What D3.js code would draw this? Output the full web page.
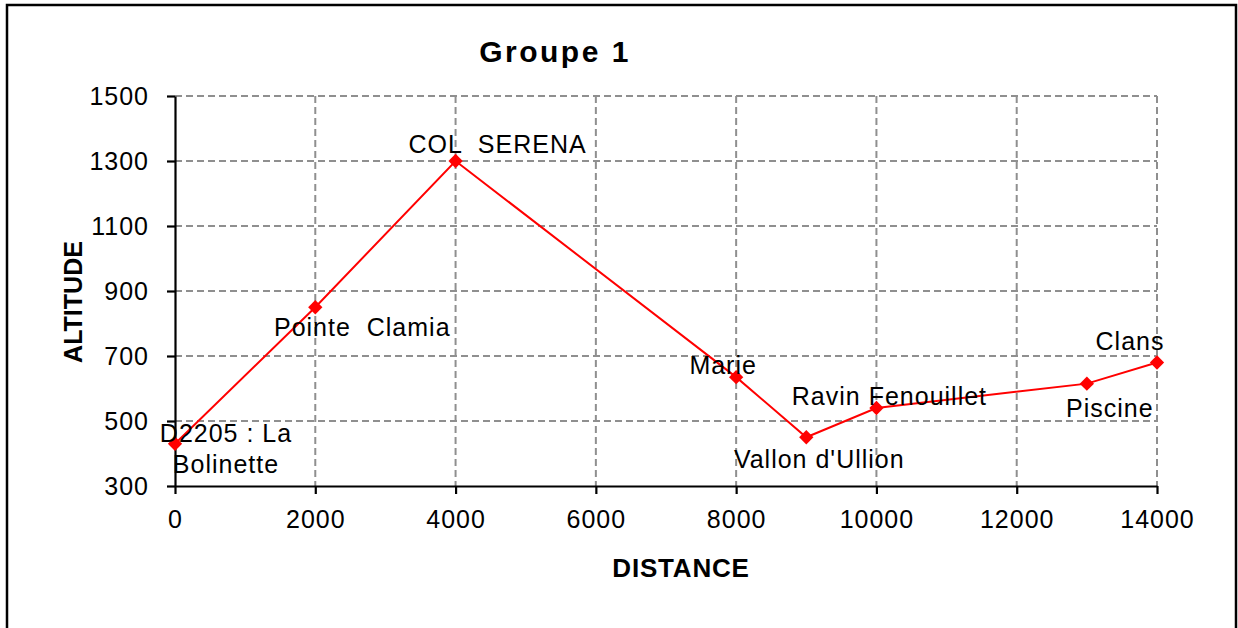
<!DOCTYPE html>
<html>
<head>
<meta charset="utf-8">
<script src="https://cdn.jsdelivr.net/npm/d3@7"></script>
<style>
  body { margin: 0; background: #fff; }
  svg { font-family: "Liberation Sans", Arial, sans-serif; }
  .grid line { stroke: #8f8f8f; stroke-width: 2; stroke-dasharray: 7,4; }
  .axis path, .axis line { stroke: #000; stroke-width: 2.2; }
  .axis text { font-size: 25px; fill: #000; letter-spacing: 1px; }
  .ptlabel { font-size: 25px; fill: #000; letter-spacing: 1px; }
</style>
</head>
<body>
<div id="chart"></div>
<script>
var distance = [0, 2000, 4000, 8000, 9000, 10000, 13000, 14000];
var altitude = [430, 850, 1300, 635, 450, 540, 615, 680];
var names = [["D2205 : La", "Bolinette"], ["Pointe  Clamia"], ["COL  SERENA"], ["Marie"],
             ["Vallon d'Ullion"], ["Ravin Fenouillet"], ["Piscine"], ["Clans"]];
/* label offset from its point, in pixels */
var labelOffsets = [[51, -11], [47, 20], [42, -17], [-13, -12], [13, 22], [13, -12], [23, 24], [-27, -22]];
var xTicks = [0, 2000, 4000, 6000, 8000, 10000, 12000, 14000];
var yTicks = [300, 500, 700, 900, 1100, 1300, 1500];

var W = 1238, H = 628;
var margin = {left: 175, top: 96, right: W - 1157, bottom: H - 486};
var width = W - margin.left - margin.right,
    height = H - margin.top - margin.bottom;

var svg = d3.select("#chart").append("svg")
    .attr("width", W)
    .attr("height", H);

/* outer frame */
svg.append("rect")
    .attr("x", 7).attr("y", 5)
    .attr("width", 1229).attr("height", 640)
    .attr("fill", "none").attr("stroke", "#000").attr("stroke-width", 2.5);

var g = svg.append("g")
    .attr("transform", "translate(" + margin.left + "," + margin.top + ")");

var x = d3.scaleLinear().domain([0, 14000]).range([0, width]),
    y = d3.scaleLinear().domain([300, 1500]).range([height, 0]);

var grid = g.append("g").attr("class", "grid");
grid.selectAll("line.v").data(xTicks.slice(1)).enter().append("line")
    .attr("x1", function(d) { return x(d); }).attr("x2", function(d) { return x(d); })
    .attr("y1", 0).attr("y2", height);
grid.selectAll("line.h").data(yTicks.slice(1)).enter().append("line")
    .attr("y1", function(d) { return y(d); }).attr("y2", function(d) { return y(d); })
    .attr("x1", 0).attr("x2", width);

var xAxis = d3.axisBottom(x).tickValues(xTicks).tickSize(8).tickSizeOuter(0).tickPadding(16).tickFormat(d3.format("d")),
    yAxis = d3.axisLeft(y).tickValues(yTicks).tickSize(8).tickSizeOuter(0).tickPadding(18).tickFormat(d3.format("d"));

g.append("g")
    .attr("class", "axis axis--x")
    .attr("transform", "translate(0," + height + ")")
    .call(xAxis);

g.append("g")
    .attr("class", "axis axis--y")
    .call(yAxis);

var pts = distance.map(function(d, i) { return {t: d, y: altitude[i], name: names[i], off: labelOffsets[i]}; });

var line = d3.line()
    .x(function(d) { return x(d.t); })
    .y(function(d) { return y(d.y); });

g.append("path").datum(pts)
    .attr("fill", "none")
    .attr("stroke", "#ff0000")
    .attr("stroke-width", 2)
    .attr("d", line);

g.selectAll("path.marker").data(pts).enter().append("path")
    .attr("class", "marker")
    .attr("d", d3.symbol().type(d3.symbolDiamond2).size(130))
    .attr("transform", function(d) { return "translate(" + x(d.t) + "," + y(d.y) + ")"; })
    .attr("fill", "#ff0000");

var labels = g.selectAll("text.ptlabel").data(pts).enter().append("text")
    .attr("class", "ptlabel")
    .attr("text-anchor", "middle")
    .attr("x", function(d) { return x(d.t) + d.off[0]; })
    .attr("y", function(d) { return y(d.y) + d.off[1] + 9; });

labels.each(function(d) {
  var t = d3.select(this);
  d.name.forEach(function(s, k) {
    t.append("tspan")
      .attr("x", x(d.t) + d.off[0])
      .attr("dy", k === 0 ? 0 : 31)
      .style("white-space", "pre")
      .text(s);
  });
});

svg.append("text")
    .attr("x", 555).attr("y", 62)
    .attr("text-anchor", "middle")
    .attr("font-size", "30px").attr("font-weight", "bold")
    .attr("letter-spacing", "2.5px")
    .text("Groupe 1");

svg.append("text")
    .attr("x", 681).attr("y", 577)
    .attr("text-anchor", "middle")
    .attr("font-size", "26px").attr("font-weight", "bold")
    .attr("letter-spacing", "0.8px")
    .text("DISTANCE");

svg.append("text")
    .attr("transform", "translate(82,302) rotate(-90)")
    .attr("text-anchor", "middle")
    .attr("font-size", "25px").attr("font-weight", "bold")
    .text("ALTITUDE");
</script>
</body>
</html>
